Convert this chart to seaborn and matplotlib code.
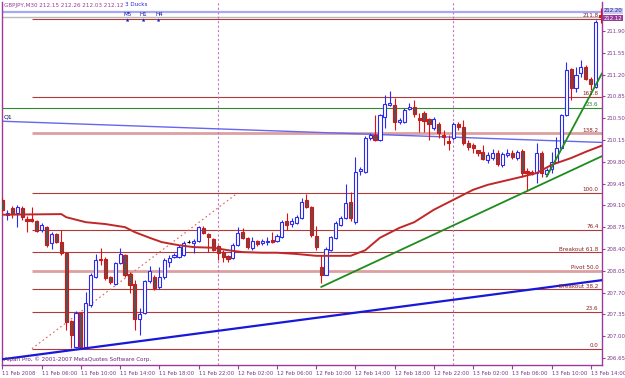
import matplotlib
matplotlib.use("Agg")
import matplotlib.pyplot as plt
import numpy as np
import pandas as pd
import seaborn as sns

# GBPJPY M30 bars (bar 0 = 11 Feb 02:00)
opens = [209.19, 208.95, 209.06, 208.98, 209.06, 208.88, 208.88, 208.85, 208.70, 208.75,
         208.50, 208.64, 208.51, 208.34, 207.24, 206.83, 207.37, 206.83, 207.50, 207.95,
         208.24, 208.24, 207.95, 207.84, 208.17, 208.30, 208.00, 207.84, 207.28, 207.37,
         207.89, 207.95, 207.79, 207.95, 208.19, 208.27, 208.27, 208.30, 208.51, 208.50,
         208.53, 208.74, 208.64, 208.56, 208.45, 208.35, 208.29, 208.26, 208.46, 208.67,
         208.58, 208.42, 208.53, 208.50, 208.51, 208.54, 208.53, 208.59, 208.85, 208.80,
         208.82, 208.90, 209.19, 209.07, 208.61, 208.11, 207.99, 208.38, 208.58, 208.78,
         208.90, 209.15, 208.83, 209.65, 209.64, 210.18, 210.23, 210.15, 210.52, 210.71,
         210.71, 210.44, 210.44, 210.65, 210.68, 210.50, 210.58, 210.49, 210.34, 210.41,
         210.23, 210.13, 210.18, 210.41, 210.36, 210.10, 210.07, 209.99, 209.96, 209.83,
         209.86, 209.94, 209.75, 209.91, 209.94, 209.86, 209.97, 209.65, 209.64, 209.62,
         209.94, 209.61, 209.68, 209.80, 210.02, 210.55, 211.29, 210.98, 211.22, 211.32,
         211.13, 211.00, 212.15]
highs = [209.22, 209.03, 209.09, 209.11, 209.09, 208.93, 209.07, 208.87, 208.82, 208.77,
         208.67, 208.66, 208.70, 208.35, 207.26, 207.40, 207.39, 207.71, 208.01, 208.32,
         208.42, 208.27, 207.97, 208.19, 208.42, 208.32, 208.03, 207.90, 207.45, 207.90,
         208.13, 207.98, 208.11, 208.25, 208.30, 208.34, 208.46, 208.53, 208.54, 208.56,
         208.77, 208.77, 208.66, 208.58, 208.46, 208.38, 208.30, 208.50, 208.75, 208.74,
         208.59, 208.59, 208.54, 208.56, 208.59, 208.67, 208.64, 208.87, 208.98, 208.90,
         208.95, 209.22, 209.28, 209.09, 208.77, 208.30, 208.43, 208.61, 208.85, 208.93,
         209.44, 209.31, 209.88, 209.72, 210.21, 210.26, 210.55, 210.57, 210.87, 210.94,
         210.82, 210.50, 210.66, 210.74, 210.79, 210.58, 210.61, 210.50, 210.52, 210.44,
         210.31, 210.23, 210.44, 210.44, 210.47, 210.15, 210.10, 209.99, 210.07, 209.96,
         210.00, 209.99, 209.96, 210.00, 209.99, 209.99, 210.00, 209.70, 209.67, 210.10,
         209.97, 209.70, 209.96, 210.20, 210.57, 211.40, 211.31, 211.32, 211.43, 211.35,
         211.16, 212.08, 212.26]
lows = [209.00, 208.87, 208.90, 208.75, 208.87, 208.67, 208.83, 208.67, 208.67, 208.43,
        208.40, 208.50, 208.30, 207.10, 206.81, 206.81, 206.79, 206.81, 207.47, 207.93,
        208.14, 207.90, 207.84, 207.82, 208.16, 207.95, 207.69, 207.10, 207.02, 207.36,
        207.85, 207.74, 207.76, 207.92, 208.11, 208.25, 208.25, 208.29, 208.50, 208.34,
        208.51, 208.64, 208.35, 208.37, 208.22, 208.19, 208.19, 208.24, 208.45, 208.56,
        208.40, 208.38, 208.45, 208.46, 208.46, 208.50, 208.51, 208.58, 208.70, 208.75,
        208.80, 208.88, 209.06, 208.59, 208.38, 207.85, 207.98, 208.37, 208.56, 208.77,
        208.88, 208.85, 208.80, 209.59, 209.62, 210.15, 210.13, 210.13, 210.34, 210.69,
        210.31, 210.41, 210.42, 210.63, 210.52, 210.28, 210.28, 210.15, 210.31, 210.18,
        210.07, 209.99, 210.15, 210.31, 210.07, 209.99, 209.94, 209.89, 209.83, 209.78,
        209.83, 209.73, 209.72, 209.88, 209.85, 209.83, 209.56, 209.33, 209.59, 209.46,
        209.56, 209.57, 209.62, 209.79, 210.00, 210.53, 210.79, 210.92, 211.16, 211.11,
        210.95, 210.98, 212.03]
closes = [209.03, 208.98, 208.96, 209.07, 208.91, 208.85, 208.85, 208.69, 208.78, 208.46,
          208.64, 208.51, 208.34, 207.23, 207.02, 207.37, 206.83, 207.53, 207.98, 208.22,
          208.22, 207.93, 207.87, 208.17, 208.32, 207.98, 207.82, 207.28, 207.36, 207.89,
          208.05, 207.77, 207.95, 208.22, 208.26, 208.30, 208.43, 208.50, 208.51, 208.53,
          208.75, 208.66, 208.59, 208.38, 208.34, 208.27, 208.24, 208.46, 208.66, 208.58,
          208.43, 208.53, 208.48, 208.53, 208.53, 208.51, 208.61, 208.83, 208.78, 208.85,
          208.91, 209.15, 209.07, 208.62, 208.43, 207.99, 208.40, 208.59, 208.82, 208.90,
          209.14, 208.90, 209.64, 209.68, 210.18, 210.23, 210.15, 210.55, 210.73, 210.74,
          210.44, 210.47, 210.63, 210.68, 210.57, 210.47, 210.45, 210.41, 210.49, 210.26,
          210.20, 210.10, 210.41, 210.36, 210.10, 210.04, 210.02, 209.94, 209.85, 209.91,
          209.94, 209.76, 209.92, 209.94, 209.88, 209.96, 209.62, 209.62, 209.61, 209.94,
          209.62, 209.67, 209.80, 210.02, 210.55, 211.27, 210.98, 211.19, 211.32, 211.13,
          211.05, 212.05, 212.12]

time_labels = ["11 Feb 2008", "11 Feb 06:00", "11 Feb 10:00", "11 Feb 14:00",
               "11 Feb 18:00", "11 Feb 22:00", "12 Feb 02:00", "12 Feb 06:00",
               "12 Feb 10:00", "12 Feb 14:00", "12 Feb 18:00", "12 Feb 22:00",
               "13 Feb 02:00", "13 Feb 06:00", "13 Feb 10:00", "13 Feb 14:00"]
label_bars = [0, 8, 16, 24, 32, 40, 48, 56, 64, 72, 80, 88, 96, 104, 112, 120]
day_separators = [44, 92]
price_ticks = [206.65, 207.00, 207.35, 207.70, 208.05, 208.40, 208.75, 209.10,
               209.45, 209.80, 210.15, 210.50, 210.85, 211.20, 211.55, 211.90]

# moving average (vertices)
ma_bars = [0, 12, 13, 17, 21, 25, 27, 30, 32.5, 36, 39, 43, 46, 49, 53, 56, 60, 64,
           71, 74, 77, 81, 84, 88, 93, 96, 99, 106, 109, 112, 116, 119, 122.3]
ma_values = [208.95, 208.96, 208.91, 208.83, 208.80, 208.75, 208.67, 208.58, 208.51,
             208.46, 208.43, 208.42, 208.38, 208.35, 208.34, 208.34, 208.32, 208.29,
             208.29, 208.38, 208.58, 208.74, 208.83, 209.03, 209.23, 209.35, 209.43,
             209.56, 209.62, 209.75, 209.86, 209.96, 210.06]

# fibonacci retracement
fib_bars = [6, 48]
fib_prices = [206.80, 209.30]
fib_levels = [0.0, 23.6, 38.2, 50.0, 61.8, 76.4, 100.0, 138.2, 161.8, 211.8]
fib_names = ["0.0", "23.6", "Breakout 38.2", "Pivot 50.0", "Breakout 61.8",
             "76.4", "100.0", "138.2", "161.8", "211.8"]
green_fib_price = 210.67

# trend lines (two anchor points each)
q1_bars, q1_prices = [0, 122.3], [210.45, 210.11]
blue_bars, blue_prices = [0, 122.3], [206.63, 207.90]
green1_bars, green1_prices = [65, 122.3], [207.79, 209.89]
green2_bars, green2_prices = [111, 122.3], [209.56, 211.22]

bid, ask = 212.12, 212.20

df = pd.DataFrame({"open": opens, "high": highs, "low": lows, "close": closes})
df["bar"] = np.arange(len(df))

sns.set_style("white")
plt.rcParams["font.family"] = ["Liberation Sans Narrow", "DejaVu Sans"]

purple = "#9A3C9A"
bull = "#2B2BF0"
bear = "#E01010"
small = 4.1
tick_size = 3.9

fig = plt.figure(figsize=(6.25, 3.78), dpi=100)
ax = fig.add_axes([2 / 625, 13 / 378, 600 / 625, 363 / 378])
ax.set_xlim(-0.1, 122.3)
ax.set_ylim(206.538, 212.364)

# fibonacci levels
fib_range = fib_prices[1] - fib_prices[0]
for lvl, name in zip(fib_levels, fib_names):
    price = fib_prices[0] + fib_range * lvl / 100
    pale = name in ("Pivot 50.0", "138.2")
    ax.hlines(price, fib_bars[0], 122.3, color="#DDA0A0" if pale else "#B03A3A",
              lw=2.0 if pale else 0.8, zorder=1)
    ax.text(121.6, price + 0.01, name, ha="right", va="bottom", fontsize=small,
            color="#8B2020", zorder=6)
sns.lineplot(x=fib_bars, y=fib_prices, ax=ax, color="#E06060", lw=0.8,
             linestyle=(0, (1.5, 2.5)), zorder=1)

ax.axhline(green_fib_price, color="#2E8B2E", lw=0.8, zorder=1)
ax.text(121.6, green_fib_price + 0.01, "23.6", ha="right", va="bottom",
        fontsize=small, color="#2E7D2E", zorder=6)

ax.axhline(ask, color="#A8A8F8", lw=1.6, zorder=1)
ax.axhline(bid, color="#B8B8B8", lw=1.0, zorder=1)

for sep in day_separators:
    ax.axvline(sep, color="#C078C0", lw=0.8, linestyle=(0, (2, 2)), zorder=1)

# candles
up = df[df.close > df.open]
down = df[df.close < df.open]
flat = df[df.close == df.open]
ax.vlines(up.bar, up.low, up.high, color=bull, lw=0.8, zorder=3)
ax.bar(up.bar, up.close - up.open, bottom=up.open, width=0.64,
       facecolor="white", edgecolor=bull, lw=0.8, zorder=4)
ax.vlines(down.bar, down.low, down.high, color=bear, lw=0.8, zorder=3)
ax.bar(down.bar, down.open - down.close, bottom=down.close, width=0.64,
       facecolor="#555555", edgecolor=bear, lw=0.8, zorder=4)
ax.vlines(flat.bar, flat.low, flat.high, color="black", lw=0.8, zorder=3)
ax.hlines(flat.close, flat.bar - 0.35, flat.bar + 0.35, color="black", lw=0.8, zorder=4)

# indicators / trend lines
sns.lineplot(x=ma_bars, y=ma_values, ax=ax, color="#C02828", lw=1.4, zorder=5)
sns.lineplot(x=q1_bars, y=q1_prices, ax=ax, color="#6666F0", lw=1.0, zorder=2)
sns.lineplot(x=blue_bars, y=blue_prices, ax=ax, color="#1818D8", lw=1.6, zorder=5)
sns.lineplot(x=green1_bars, y=green1_prices, ax=ax, color="#1E8C1E", lw=1.3, zorder=5)
sns.lineplot(x=green2_bars, y=green2_prices, ax=ax, color="#1E8C1E", lw=1.3, zorder=5)
ax.text(0.3, q1_prices[0] + 0.03, "Q1", fontsize=4.4, color="#000060", va="bottom")

# axes styling
for side in ("left", "right", "bottom"):
    ax.spines[side].set_color(purple)
    ax.spines[side].set_linewidth(1.0)
ax.spines["top"].set_visible(False)
ax.set_xticks(label_bars)
ax.set_xticklabels(time_labels, ha="left")
ax.yaxis.tick_right()
ax.set_yticks(price_ticks)
ax.set_yticklabels([f"{p:.2f}" for p in price_ticks])
ax.tick_params(axis="x", colors=purple, labelcolor="#7A3A8A", labelsize=tick_size,
               length=3, width=0.8, pad=1.5, direction="out", bottom=True)
ax.tick_params(axis="y", colors=purple, labelcolor="#7A3A8A", labelsize=tick_size,
               length=2.5, width=0.8, pad=0.8, direction="out", right=True, left=False)
ax.set_xlabel("")
ax.set_ylabel("")
ax.grid(False)

ytr = ax.get_yaxis_transform()
ax.text(1.003, ask + 0.02, f"{ask:.2f}", transform=ytr, fontsize=tick_size, color="#202080",
        va="center", ha="left", bbox=dict(boxstyle="square,pad=0.1", fc="#C8C8F4", ec="none"))
ax.text(1.003, bid - 0.02, f"{bid:.2f}", transform=ytr, fontsize=tick_size, color="white",
        va="center", ha="left", bbox=dict(boxstyle="square,pad=0.1", fc="#9A3C9A", ec="none"))

# header and watermark texts
def fpos(x, y):
    return x / 625, 1 - y / 378

fig.text(*fpos(4, 5), "GBPJPY,M30 212.15 212.26 212.03 212.12", fontsize=small,
         color="#9A3C9A", va="center")
fig.text(*fpos(125, 5), "3 Ducks", fontsize=small, color="#2828D8", va="center")
for name, x in zip(["M5", "H1", "H4"], [124, 140, 155]):
    fig.text(*fpos(x, 14), name, fontsize=small, color="#1818A0", va="center")
    fig.text(*fpos(x + 2, 21), "▲", fontsize=3.0, color="#1818C0", va="center",
             family="DejaVu Sans")
fig.text(*fpos(4, 359), "Alpari Pro, © 2001-2007 MetaQuotes Software Corp.",
         fontsize=small, color="#6A2A7A", va="center")

fig.savefig("out.png", dpi=100, facecolor="white")
